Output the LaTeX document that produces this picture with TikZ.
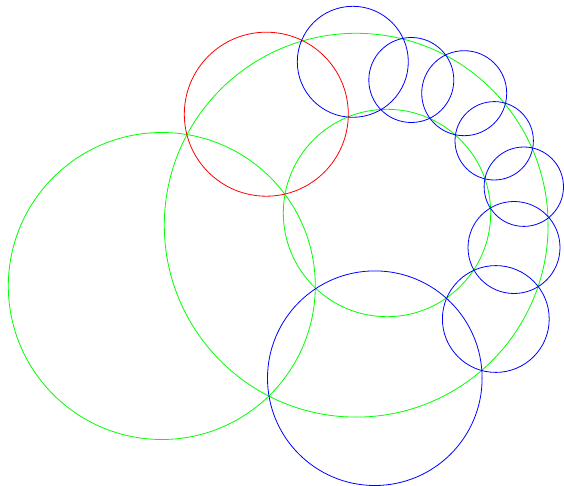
\documentclass[tikz,border=0pt]{standalone}
\definecolor{pgreen}{RGB}{0,255,0}
\definecolor{pred}{RGB}{255,0,0}
\definecolor{pblue}{RGB}{0,0,255}
\begin{document}
\begin{tikzpicture}[x=1pt, y=1pt, line width=0.8pt]
    \useasboundingbox (0,0) rectangle (564,-486);

    % Green circles
    \draw[pgreen] (161.8,-286) circle[radius=153.5];
    \draw[pgreen] (356.2,-225.2) circle[radius=191.9];
    \draw[pgreen] (387,-213) circle[radius=103.7];

    % Red circle
    \draw[pred] (266.3,-114.2) circle[radius=82];

    % Blue chain
    \draw[pblue] (374.8,-378.2) circle[radius=107.3];
    \draw[pblue] (352.8,-61.8) circle[radius=55.5];
    \draw[pblue] (411.3,-80) circle[radius=42.5];
    \draw[pblue] (464.2,-93.2) circle[radius=42.5];
    \draw[pblue] (494.2,-140.8) circle[radius=39.2];
    \draw[pblue] (523.8,-186.7) circle[radius=39.7];
    \draw[pblue] (514,-247.5) circle[radius=46];
    \draw[pblue] (495.8,-319) circle[radius=53.4];
\end{tikzpicture}
\end{document}
